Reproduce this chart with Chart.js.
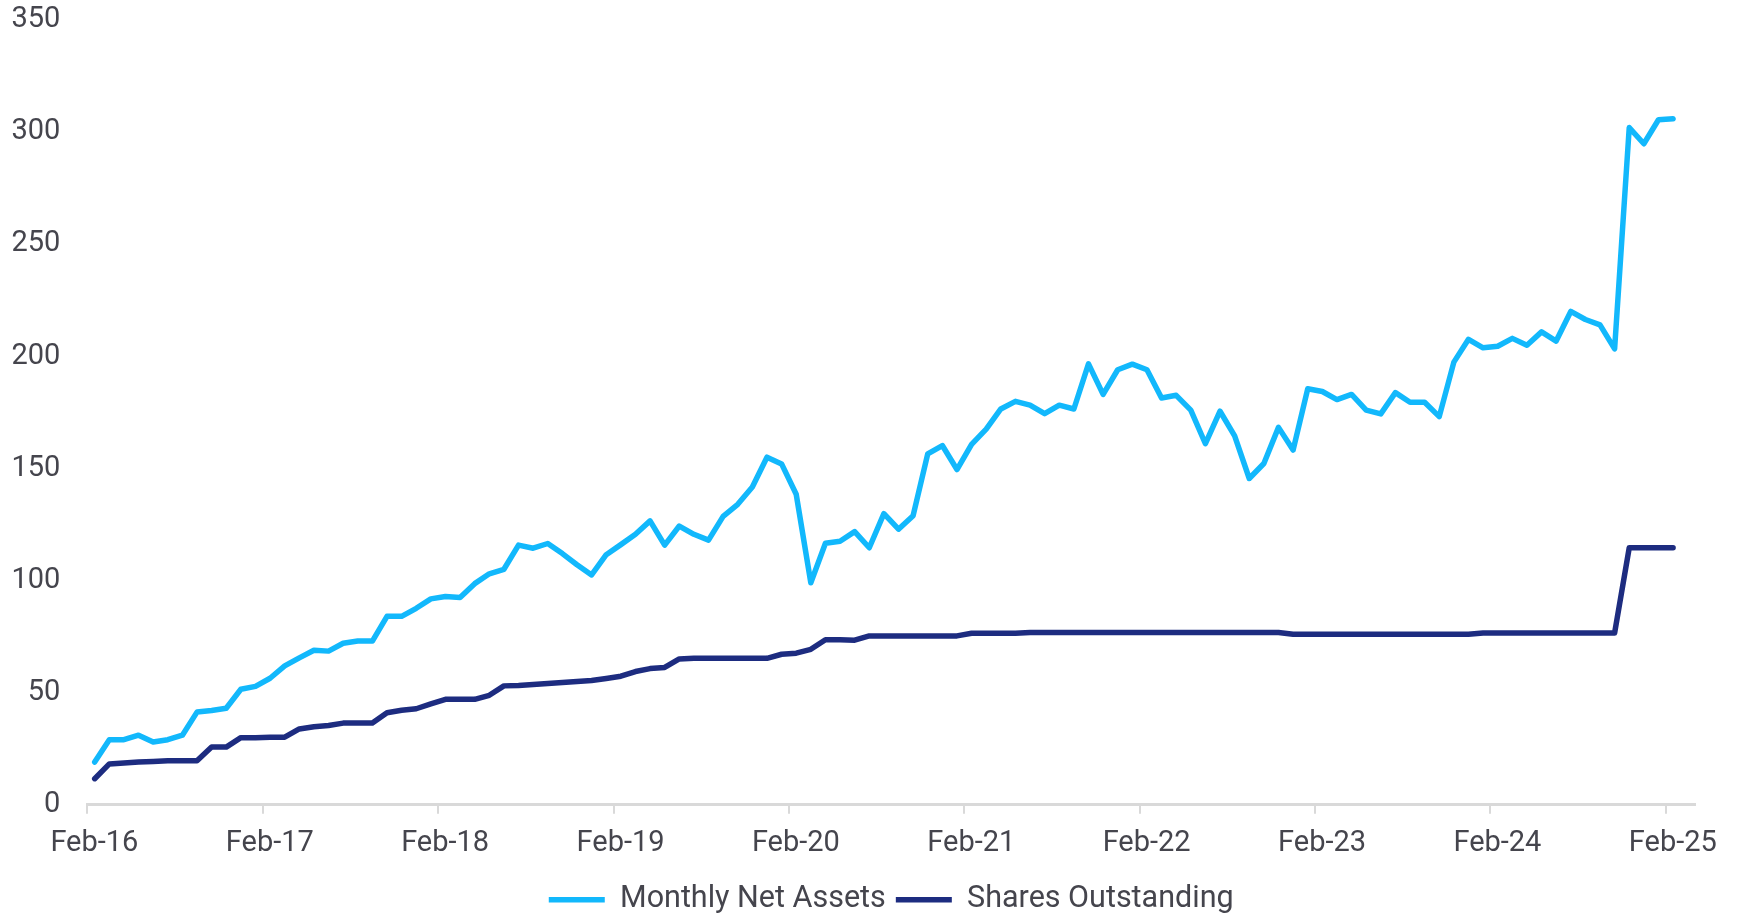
<!DOCTYPE html>
<html lang="en">

<head>
    <meta charset="UTF-8">
    <title>Monthly Net Assets and Shares Outstanding</title>
    <script src="https://cdn.jsdelivr.net/npm/chart.js"></script>
    <style>
        html, body {
            margin: 0;
            padding: 0;
            background: #ffffff;
            overflow: hidden;
        }

        .grafico {
            position: relative;
            width: 1737px;
            height: 914px;
        }
    </style>
</head>

<body>
    <div class="grafico">
        <canvas id="graficoLinhas"></canvas>
    </div>

    <script>
        // year ticks, one every 12 months starting Feb-16
        const tickLabels = ['Feb-16', 'Feb-17', 'Feb-18', 'Feb-19', 'Feb-20', 'Feb-21', 'Feb-22', 'Feb-23', 'Feb-24', 'Feb-25'];

        // month-end values, Feb-16 .. Feb-25
        const netAssets = [
            19, 29, 29, 31, 28, 29, 31, 41.3, 42, 43, 51.5, 52.8,
            56.4, 61.9, 65.5, 68.9, 68.5, 72, 73, 73, 84, 84, 87.6, 91.8,
            92.9, 92.4, 98.6, 103, 105, 115.8, 114.4, 116.5, 112, 107, 102.5, 111.5,
            116, 120.6, 126.6, 115.8, 124.3, 120.6, 118, 128.6, 134, 141.7, 155, 152,
            138.5, 99, 116.6, 117.5, 121.8, 114.6, 129.8, 122.9, 128.9, 156.5, 160.2, 149.5,
            160.7, 167.5, 176.5, 179.9, 178.2, 174.4, 178.2, 176.5, 196.6, 183, 194, 196.5,
            194, 181.4, 182.6, 176, 161, 175.5, 164.5, 145.5, 152.2, 168.3, 158.2, 185.5,
            184.3, 180.7, 183, 176, 174.3, 183.8, 179.5, 179.5, 173.1, 197.4, 207.6, 203.8,
            204.5, 208, 204.9, 210.9, 206.8, 220, 216.4, 214, 203.3, 302, 294.8, 305.5,
            306
        ];

        const sharesOutstanding = [
            11.6, 18.2, 18.6, 19, 19.3, 19.6, 19.6, 19.6, 25.7, 25.7, 29.9, 29.9,
            30.1, 30.1, 33.8, 34.8, 35.3, 36.4, 36.4, 36.4, 41, 42.1, 42.8, 45,
            47, 47, 47, 48.8, 53, 53.2, 53.6, 54.1, 54.5, 55, 55.4, 56.3,
            57.3, 59.4, 60.7, 61.2, 65, 65.3, 65.3, 65.3, 65.3, 65.3, 65.3, 67.1,
            67.6, 69.3, 73.6, 73.6, 73.4, 75.3, 75.3, 75.3, 75.3, 75.3, 75.3, 75.3,
            76.5, 76.5, 76.5, 76.5, 76.8, 76.8, 76.8, 76.8, 76.8, 76.8, 76.8, 76.8,
            76.8, 76.8, 76.8, 76.8, 76.8, 76.8, 76.8, 76.8, 76.8, 76.8, 76.0, 76.0,
            76.0, 76.0, 76.0, 76.0, 76.0, 76.0, 76.0, 76.0, 76.0, 76.0, 76.0, 76.6,
            76.6, 76.6, 76.6, 76.6, 76.6, 76.6, 76.6, 76.6, 76.6, 114.6, 114.6, 114.6,
            114.6
        ];

        const corTexto = '#45454d';
        const corEixo = '#d9d9d9';

        // x is months since Feb-16; month-end points sit half a month after the tick
        function pontos(valores) {
            return valores.map((v, i) => ({ x: i + 0.5, y: v }));
        }

        function criarGrafico() {
            const ctx = document.getElementById('graficoLinhas').getContext('2d');

            const dados = {
                datasets: [
                    {
                        label: 'Monthly Net Assets',
                        data: pontos(netAssets),
                        borderColor: '#12b8fc',
                        backgroundColor: '#12b8fc',
                        borderWidth: 5.5,
                        pointRadius: 0,
                        tension: 0,
                        borderJoinStyle: 'round',
                        borderCapStyle: 'round'
                    },
                    {
                        label: 'Shares Outstanding',
                        data: pontos(sharesOutstanding),
                        borderColor: '#1d2c80',
                        backgroundColor: '#1d2c80',
                        borderWidth: 5.5,
                        pointRadius: 0,
                        tension: 0,
                        borderJoinStyle: 'round',
                        borderCapStyle: 'round'
                    }
                ]
            };

            const config = {
                type: 'line',
                data: dados,
                options: {
                    responsive: true,
                    maintainAspectRatio: false,
                    animation: false,
                    layout: {
                        padding: { top: 20, right: 42, bottom: -11, left: 11.5 }
                    },
                    plugins: {
                        tooltip: { enabled: false },
                        legend: {
                            position: 'bottom',
                            fullSize: false,
                            labels: {
                                usePointStyle: true,
                                pointStyle: 'line',
                                pointStyleWidth: 56,
                                padding: 10,
                                color: corTexto,
                                font: { family: 'Roboto', size: 30.5 }
                            }
                        }
                    },
                    scales: {
                        x: {
                            type: 'linear',
                            min: 0,
                            max: 110,
                            afterBuildTicks: (scale) => {
                                scale.ticks = tickLabels.map((_, i) => ({ value: i * 12 }));
                            },
                            ticks: {
                                autoSkip: false,
                                maxRotation: 0,
                                labelOffset: 7,
                                padding: 13,
                                color: corTexto,
                                font: { family: 'Roboto', size: 29 },
                                callback: (valor, indice) => tickLabels[indice]
                            },
                            grid: {
                                drawOnChartArea: false,
                                tickLength: 9,
                                color: corEixo,
                                lineWidth: 2
                            },
                            border: { color: corEixo, width: 3 }
                        },
                        y: {
                            min: 0,
                            max: 350,
                            ticks: {
                                stepSize: 50,
                                padding: 0,
                                color: corTexto,
                                font: { family: 'Roboto', size: 29 }
                            },
                            // invisible tick marks keep the gap between labels and plot
                            grid: {
                                drawOnChartArea: false,
                                drawTicks: true,
                                tickLength: 27,
                                color: 'rgba(0, 0, 0, 0)'
                            },
                            border: { display: false }
                        }
                    }
                }
            };

            new Chart(ctx, config);
        }

        criarGrafico();
    </script>
</body>

</html>
